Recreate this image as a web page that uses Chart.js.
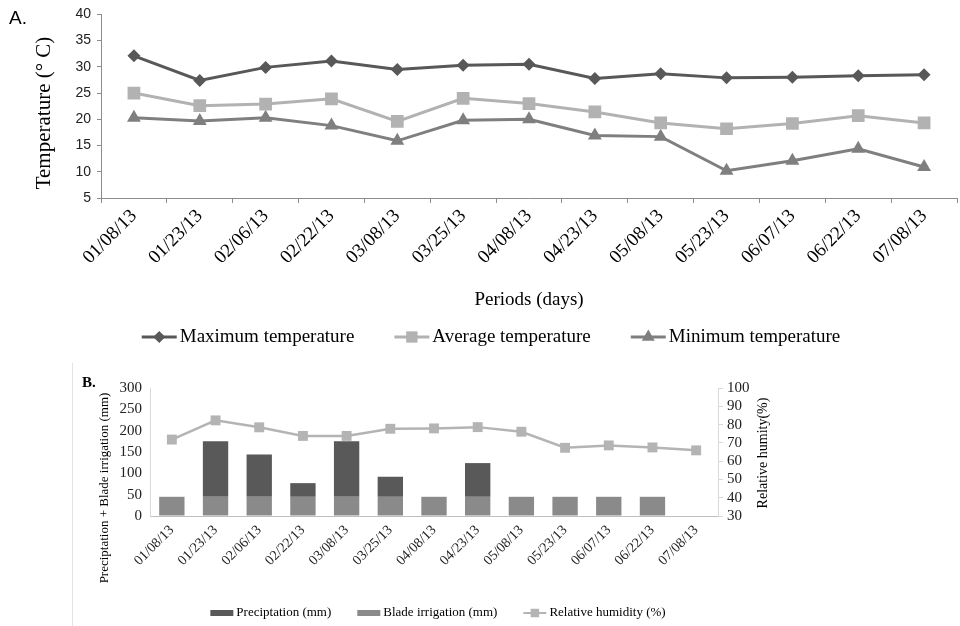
<!DOCTYPE html>
<html>
<head>
<meta charset="utf-8">
<script src="https://cdn.jsdelivr.net/npm/chart.js@4/dist/chart.umd.min.js"></script>
<style>
  html, body { margin: 0; padding: 0; background: #fff; overflow: hidden; width: 960px; height: 626px; }
  #wrapA { position: absolute; left: 0; top: 0; }
  #wrapB { position: absolute; left: 0; top: 360px; }
</style>
</head>
<body>
<div id="wrapA"><canvas id="chartA" width="966" height="360"></canvas></div>
<div id="wrapB"><canvas id="chartB" width="960" height="266"></canvas></div>
<script>
// Sampling dates
const periods = ['01/08/13', '01/23/13', '02/06/13', '02/22/13', '03/08/13', '03/25/13', '04/08/13',
                 '04/23/13', '05/08/13', '05/23/13', '06/07/13', '06/22/13', '07/08/13'];

// Panel A: temperatures (°C)
const maxTemp = [32.1, 27.4, 29.9, 31.1, 29.5, 30.3, 30.5, 27.8, 28.7, 27.9, 28.0, 28.3, 28.5];
const avgTemp = [25.0, 22.6, 22.9, 23.9, 19.6, 24.0, 23.0, 21.4, 19.3, 18.2, 19.2, 20.7, 19.3];
const minTemp = [20.3, 19.7, 20.3, 18.8, 15.9, 19.8, 20.0, 16.9, 16.7, 10.2, 12.1, 14.4, 10.9];
const tempTicks = { min: 5, max: 40, step: 5 };

// Panel B: water inputs (mm) and relative humidity (%)
const precipitation   = [0, 130, 99, 32, 130, 47, 0, 79, 0, 0, 0, 0, 0];
const bladeIrrigation = [45, 45, 45, 45, 45, 45, 45, 45, 45, 45, 45, 45, 0];
const humidity        = [71.8, 82.3, 78.5, 73.8, 73.8, 77.7, 77.9, 78.6, 76.1, 67.3, 68.6, 67.5, 65.9];
const waterTicks = { min: 0, max: 300, step: 50 };
const humidityTicks = { min: 30, max: 100, step: 10 };

const SERIF = "'Liberation Serif', 'Times New Roman', serif";
const SANS = "'Liberation Sans', Arial, sans-serif";

const C_MAX = '#585858', C_AVG = '#b2b2b2', C_MIN = '#7f7f7f';
const C_PREC = '#595959', C_IRR = '#8a8a8a', C_HUM = '#b4b4b4';

function drawMarker(ctx, style, x, y, r) {
  ctx.beginPath();
  if (style === 'rectRot') {
    ctx.moveTo(x - r, y); ctx.lineTo(x, y - r); ctx.lineTo(x + r, y); ctx.lineTo(x, y + r);
  } else if (style === 'rect') {
    const s = r * Math.SQRT1_2;
    ctx.rect(x - s, y - s, 2 * s, 2 * s);
  } else if (style === 'triangle') {
    const w = Math.sin(Math.PI / 3) * r;
    ctx.moveTo(x, y - r); ctx.lineTo(x + w, y + r / 2); ctx.lineTo(x - w, y + r / 2);
  }
  ctx.closePath();
  ctx.fill();
}

// Legend drawn as line+marker or filled box followed by its label
const rowLegend = {
  id: 'rowLegend',
  afterDraw(chart, args, opts) {
    if (!opts.items) return;
    const ctx = chart.ctx;
    ctx.save();
    ctx.font = opts.font;
    ctx.textBaseline = 'middle';
    ctx.textAlign = 'left';
    const widths = opts.items.map(it => opts.symbolWidth + opts.textGap + ctx.measureText(it.text).width);
    const total = widths.reduce((a, b) => a + b, 0) + opts.itemGap * (opts.items.length - 1);
    let x = opts.centerX - total / 2;
    const y = opts.y;
    opts.items.forEach((it, i) => {
      ctx.fillStyle = it.color;
      ctx.strokeStyle = it.color;
      if (it.kind === 'box') {
        ctx.fillRect(x, y - opts.boxHeight / 2, opts.symbolWidth, opts.boxHeight);
      } else {
        ctx.lineWidth = it.lineWidth;
        ctx.beginPath();
        ctx.moveTo(x, y); ctx.lineTo(x + opts.symbolWidth, y);
        ctx.stroke();
        drawMarker(ctx, it.pointStyle, x + opts.symbolWidth / 2, y, it.radius);
      }
      ctx.fillStyle = opts.textColor;
      ctx.fillText(it.text, x + opts.symbolWidth + opts.textGap, y);
      x += widths[i] + opts.itemGap;
    });
    ctx.restore();
  }
};

// Panel letter, side frame and vertical axis titles (read bottom-to-top)
const panelDecor = {
  id: 'panelDecor',
  afterDraw(chart, args, opts) {
    const ctx = chart.ctx;
    ctx.save();
    if (opts.frameX !== undefined) {
      ctx.strokeStyle = '#e4e4e4';
      ctx.lineWidth = 1;
      ctx.beginPath();
      ctx.moveTo(opts.frameX + 0.5, opts.frameTop);
      ctx.lineTo(opts.frameX + 0.5, chart.height);
      ctx.stroke();
    }
    ctx.font = opts.font;
    ctx.fillStyle = '#000';
    ctx.textBaseline = 'middle';
    ctx.textAlign = 'left';
    ctx.fillText(opts.letter, opts.x, opts.y);
    (opts.vTitles || []).forEach(t => {
      ctx.save();
      ctx.translate(t.x, t.y);
      ctx.rotate(-Math.PI / 2);
      ctx.font = t.font;
      ctx.textAlign = 'center';
      ctx.textBaseline = 'middle';
      ctx.fillText(t.text, 0, 0);
      ctx.restore();
    });
    ctx.restore();
  }
};

Chart.register(rowLegend, panelDecor);

// ---------- Panel A ----------
new Chart(document.getElementById('chartA'), {
  type: 'line',
  data: {
    labels: periods,
    datasets: [
      { label: 'Maximum temperature', data: maxTemp, borderColor: C_MAX, backgroundColor: C_MAX,
        borderWidth: 3, pointStyle: 'rectRot', pointRadius: 6.5, pointBorderWidth: 0 },
      { label: 'Average temperature', data: avgTemp, borderColor: C_AVG, backgroundColor: C_AVG,
        borderWidth: 3, pointStyle: 'rect', pointRadius: 9, pointBorderWidth: 0 },
      { label: 'Minimum temperature', data: minTemp, borderColor: C_MIN, backgroundColor: C_MIN,
        borderWidth: 3, pointStyle: 'triangle', pointRadius: 8, pointBorderWidth: 0 }
    ]
  },
  options: {
    responsive: false,
    animation: false,
    devicePixelRatio: 1,
    layout: { padding: { left: 32, top: 14, right: 0, bottom: 49 } },
    plugins: {
      legend: { display: false },
      tooltip: { enabled: false },
      rowLegend: {
        centerX: 491, y: 337, font: `19px ${SERIF}`, textColor: '#000',
        symbolWidth: 35, textGap: 3, itemGap: 40, boxHeight: 6,
        items: [
          { kind: 'line', text: 'Maximum temperature', color: C_MAX, pointStyle: 'rectRot', radius: 6, lineWidth: 3 },
          { kind: 'line', text: 'Average temperature', color: C_AVG, pointStyle: 'rect', radius: 8, lineWidth: 3 },
          { kind: 'line', text: 'Minimum temperature', color: C_MIN, pointStyle: 'triangle', radius: 7.5, lineWidth: 3 }
        ]
      },
      panelDecor: {
        letter: 'A.', x: 9, y: 19, font: `19px ${SANS}`,
        vTitles: [{ text: 'Temperature (° C)', x: 44, y: 113, font: `21px ${SERIF}` }]
      }
    },
    scales: {
      x: {
        offset: true,
        grid: { offset: true, drawOnChartArea: false, drawTicks: true, tickLength: 5, color: '#8c8c8c' },
        border: { color: '#8c8c8c', width: 1 },
        ticks: { font: { family: SERIF, size: 19 }, color: '#000', maxRotation: 45, minRotation: 45, padding: 2 },
        title: { display: true, text: 'Periods (days)', font: { family: SERIF, size: 19 }, color: '#000', padding: { top: 0, bottom: 0 } },
        afterFit(s) { s.height = 113; }
      },
      y: {
        min: tempTicks.min, max: tempTicks.max,
        ticks: { stepSize: tempTicks.step, font: { family: SANS, size: 14 }, color: '#222', padding: 6 },
        grid: { drawOnChartArea: false, drawTicks: true, tickLength: 4, color: '#8c8c8c' },
        border: { color: '#8c8c8c', width: 1 },
        title: { display: false },
        afterFit(s) { s.width = 69; }
      }
    }
  }
});

// ---------- Panel B ----------
new Chart(document.getElementById('chartB'), {
  type: 'bar',
  data: {
    labels: periods,
    datasets: [
      { type: 'line', label: 'Relative humidity (%)', data: humidity, yAxisID: 'y1',
        borderColor: C_HUM, backgroundColor: C_HUM, borderWidth: 2.5,
        pointStyle: 'rect', pointRadius: 7, pointBorderWidth: 0, order: 0 },
      { label: 'Blade irrigation (mm)', data: bladeIrrigation, backgroundColor: C_IRR,
        stack: 'water', yAxisID: 'y', order: 1, categoryPercentage: 1, barPercentage: 0.58 },
      { label: 'Preciptation (mm)', data: precipitation, backgroundColor: C_PREC,
        stack: 'water', yAxisID: 'y', order: 1, categoryPercentage: 1, barPercentage: 0.58 }
    ]
  },
  options: {
    responsive: false,
    animation: false,
    devicePixelRatio: 1,
    layout: { padding: { left: 97, top: 28, right: 187, bottom: 30 } },
    plugins: {
      legend: { display: false },
      tooltip: { enabled: false },
      rowLegend: {
        centerX: 438, y: 253, font: `13px ${SERIF}`, textColor: '#000',
        symbolWidth: 23, textGap: 3, itemGap: 26, boxHeight: 6,
        items: [
          { kind: 'box', text: 'Preciptation (mm)', color: C_PREC },
          { kind: 'box', text: 'Blade irrigation (mm)', color: C_IRR },
          { kind: 'line', text: 'Relative humidity (%)', color: C_HUM, pointStyle: 'rect', radius: 6, lineWidth: 2 }
        ]
      },
      panelDecor: {
        letter: 'B.', x: 82, y: 23, font: `bold 15px ${SERIF}`, frameX: 72, frameTop: 3,
        vTitles: [
          { text: 'Preciptation + Blade irrigation (mm)', x: 105, y: 128, font: `13px ${SERIF}` },
          { text: 'Relative humity(%)', x: 763, y: 93, font: `14px ${SERIF}` }
        ]
      }
    },
    scales: {
      x: {
        stacked: true,
        offset: true,
        grid: { display: true, drawOnChartArea: false, drawTicks: false },
        border: { color: '#bfbfbf', width: 1 },
        ticks: { font: { family: SERIF, size: 14 }, color: '#222', maxRotation: 45, minRotation: 45, padding: 6 },
        afterFit(s) { s.height = 80; }
      },
      y: {
        stacked: true,
        position: 'left',
        min: waterTicks.min, max: waterTicks.max,
        ticks: { stepSize: waterTicks.step, font: { family: SERIF, size: 15 }, color: '#222', padding: 8 },
        grid: { drawOnChartArea: false, drawTicks: false },
        border: { color: '#d9d9d9', width: 1 },
        title: { display: false },
        afterFit(s) { s.width = 53; }
      },
      y1: {
        position: 'right',
        min: humidityTicks.min, max: humidityTicks.max,
        ticks: { stepSize: humidityTicks.step, autoSkip: false, font: { family: SERIF, size: 15 }, color: '#222', padding: 4 },
        grid: { drawOnChartArea: false, drawTicks: true, tickLength: 5, color: '#d9d9d9' },
        border: { color: '#d9d9d9', width: 1 },
        title: { display: false },
        afterFit(s) { s.width = 55; }
      }
    }
  }
});
</script>
</body>
</html>
